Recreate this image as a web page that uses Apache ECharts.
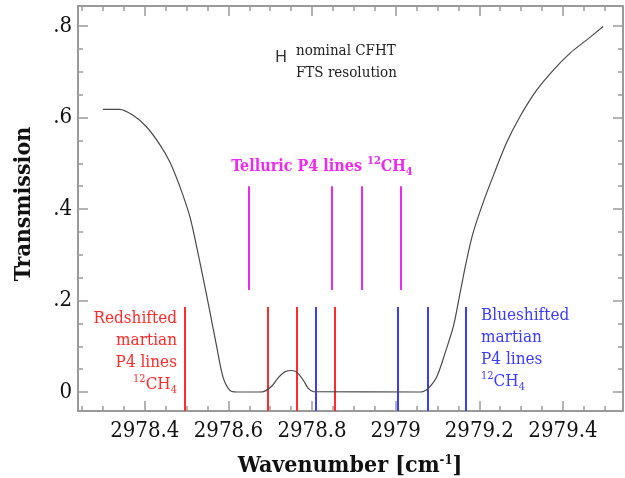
<!DOCTYPE html>
<html><head><meta charset="utf-8">
<script src="https://cdn.jsdelivr.net/npm/echarts@6/dist/echarts.min.js"></script>
<style>html,body{margin:0;padding:0;background:#fff}#c{width:625px;height:478px}</style>
</head><body><div id="c"></div>
<script>
// ---- data ----
const wavenumber = [2978.300, 2978.340, 2978.372, 2978.404, 2978.436, 2978.460, 2978.484, 2978.508, 2978.524, 2978.539, 2978.555, 2978.572, 2978.587, 2978.603, 2978.619,
  2978.675, 2978.687, 2978.703, 2978.719, 2978.735, 2978.751, 2978.764, 2978.779, 2978.791, 2978.803,
  2979.058, 2979.066, 2979.078, 2979.098, 2979.118, 2979.138, 2979.154, 2979.170, 2979.185, 2979.209, 2979.233, 2979.265, 2979.297, 2979.337, 2979.377, 2979.417, 2979.457, 2979.496];
const transmission = [0.618, 0.618, 0.605, 0.580, 0.541, 0.503, 0.449, 0.383, 0.318, 0.252, 0.179, 0.099, 0.033, 0.004, 0.000,
  0.000, 0.002, 0.012, 0.031, 0.044, 0.047, 0.043, 0.026, 0.008, 0.001,
  0.000, 0.001, 0.008, 0.033, 0.085, 0.144, 0.217, 0.290, 0.348, 0.414, 0.472, 0.545, 0.602, 0.660, 0.704, 0.741, 0.770, 0.799];
const redshiftedLines = [2978.496, 2978.693, 2978.763, 2978.855];
const blueshiftedLines = [2978.808, 2979.006, 2979.076, 2979.168];
const telluricLines = [2978.649, 2978.848, 2978.918, 2979.011];
const martianLineTop = 0.186;
const telluricBottom = 0.223;
const telluricTop = 0.450;
const xTickValues = [2978.4, 2978.6, 2978.8, 2979.0, 2979.2, 2979.4];
const xMinorTickValues = [2978.25, 2978.3, 2978.35, 2978.45, 2978.5, 2978.55, 2978.65, 2978.7, 2978.75, 2978.85, 2978.9, 2978.95, 2979.05, 2979.1, 2979.15, 2979.25, 2979.3, 2979.35, 2979.45, 2979.5];
const yTickValues = [0, 0.2, 0.4, 0.6, 0.8];
const yTickLabels = ['0', '.2', '.4', '.6', '.8'];
const yMinorTickValues = [0.05, 0.1, 0.15, 0.25, 0.3, 0.35, 0.45, 0.5, 0.55, 0.65, 0.7, 0.75];
const xMin = 2978.2404, xMax = 2979.5435, yMin = -0.0415, yMax = 0.844;

// ---- styling ----
const FRAME = '#9a9a9a';
const SERIF = '"DejaVu Serif Condensed", "DejaVu Serif", serif';
const RED = '#ff2a2a', BLUE = '#3c3cff', MAG = '#ee2aee';

function xAx(position, values, len, showLine, showLabel) {
  return {
    type: 'value', position: position, min: xMin, max: xMax, gridIndex: 0,
    axisLine: {show: showLine, onZero: false, lineStyle: {color: FRAME, width: 2}},
    axisTick: {show: true, inside: true, length: len, customValues: values, lineStyle: {color: FRAME, width: 1.5}},
    axisLabel: showLabel ? {show: true, customValues: values, margin: 9, color: '#111', fontSize: 22, fontFamily: SERIF,
      formatter: v => String(Math.round(v * 10) / 10)} : {show: false},
    splitLine: {show: false}
  };
}
function yAx(position, values, len, showLine, showLabel) {
  return {
    type: 'value', position: position, min: yMin, max: yMax, gridIndex: 0,
    axisLine: {show: showLine, onZero: false, lineStyle: {color: FRAME, width: 2}},
    axisTick: {show: true, inside: true, length: len, customValues: values, lineStyle: {color: FRAME, width: 1.5}},
    axisLabel: showLabel ? {show: true, customValues: values, margin: 6, color: '#111', fontSize: 22, fontFamily: SERIF,
      formatter: v => { const i = yTickValues.findIndex(t => Math.abs(t - v) < 1e-6); return i >= 0 ? yTickLabels[i] : ''; }} : {show: false},
    splitLine: {show: false}
  };
}

function vlines(xs, y0, y1) {
  return xs.map(x => ({coords: [[x, y0], [x, y1]]}));
}
function richCH4(color, size, weight) {
  return {
    s: {fontSize: size, fontWeight: weight, fontFamily: SERIF, verticalAlign: 'top', fill: color, lineHeight: 22},
    b: {fontSize: size, fontWeight: weight, fontFamily: SERIF, verticalAlign: 'bottom', fill: color, lineHeight: 22}
  };
}

const chart = echarts.init(document.getElementById('c'), null, {renderer: 'canvas'});
chart.setOption({
  animation: false,
  backgroundColor: '#fff',
  grid: {left: 78, right: 2, top: 6, bottom: 67},
  xAxis: [
    xAx('bottom', xTickValues, 10, true, true),
    xAx('bottom', xMinorTickValues, 5, false, false),
    xAx('top', xTickValues, 10, true, false),
    xAx('top', xMinorTickValues, 5, false, false)
  ],
  yAxis: [
    yAx('left', yTickValues, 10, true, true),
    yAx('left', yMinorTickValues, 5, false, false),
    yAx('right', yTickValues, 10, true, false),
    yAx('right', yMinorTickValues, 5, false, false)
  ],
  series: [
    {type: 'line', data: wavenumber.map((x, i) => [x, transmission[i]]), smooth: 0.3, symbol: 'none',
      lineStyle: {color: '#4a4a4a', width: 1.2}, z: 5},
    {type: 'lines', coordinateSystem: 'cartesian2d', data: vlines(redshiftedLines, yMin, martianLineTop),
      lineStyle: {color: RED, width: 2, opacity: 1}, z: 4},
    {type: 'lines', coordinateSystem: 'cartesian2d', data: vlines(blueshiftedLines, yMin, martianLineTop),
      lineStyle: {color: BLUE, width: 2, opacity: 1}, z: 4},
    {type: 'lines', coordinateSystem: 'cartesian2d', data: vlines(telluricLines, telluricBottom, telluricTop),
      lineStyle: {color: MAG, width: 2, opacity: 1}, z: 4}
  ],
  graphic: [
    {type: 'text', x: 24, y: 204, rotation: Math.PI / 2, style: {text: 'Transmission', fill: '#111', font: 'bold 23px ' + SERIF, align: 'center', verticalAlign: 'middle'}},
    {type: 'text', x: 350, y: 466, style: {text: 'Wavenumber [cm{s|-1}]', fill: '#111', font: 'bold 23px ' + SERIF, align: 'center', verticalAlign: 'middle',
      rich: {s: {fontSize: 13, fontWeight: 'bold', fontFamily: SERIF, verticalAlign: 'top', fill: '#111'}}}},
    {type: 'text', x: 322, y: 167, style: {text: 'Telluric P4 lines {s|12}CH{b|4}', fill: MAG, font: 'bold 16px ' + SERIF, align: 'center', verticalAlign: 'middle',
      rich: richCH4(MAG, 11, 'bold')}},
    {type: 'text', x: 177, y: 308, style: {text: 'Redshifted\nmartian\nP4 lines\n{s|12}CH{b|4}', fill: RED, font: '17px ' + SERIF, align: 'right', verticalAlign: 'top', lineHeight: 22,
      rich: richCH4(RED, 11, 'normal')}},
    {type: 'text', x: 481, y: 305, style: {text: 'Blueshifted\nmartian\nP4 lines\n{s|12}CH{b|4}', fill: BLUE, font: '17px ' + SERIF, align: 'left', verticalAlign: 'top', lineHeight: 22,
      rich: richCH4(BLUE, 11, 'normal')}},
    {type: 'text', x: 296, y: 40, style: {text: 'nominal CFHT\nFTS resolution', fill: '#222', font: '15px ' + SERIF, align: 'left', verticalAlign: 'top', lineHeight: 22}},
    {type: 'text', x: 281, y: 58, style: {text: 'H', fill: '#333', font: '16px "Liberation Sans", sans-serif', align: 'center', verticalAlign: 'middle'}}
  ]
});
</script>
</body></html>
